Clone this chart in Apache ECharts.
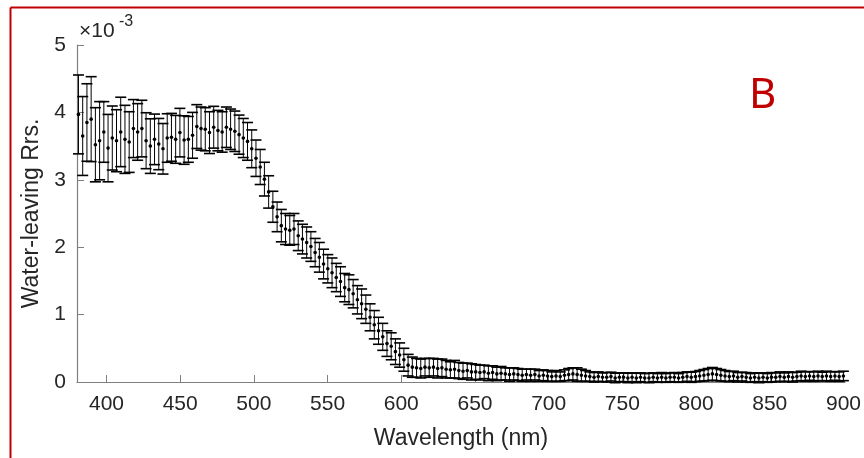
<!DOCTYPE html>
<html lang="en">

<head>
  <meta charset="UTF-8">
  <title>Water-leaving Rrs</title>
  <script src="https://cdn.jsdelivr.net/npm/echarts@6/dist/echarts.min.js"></script>
  <style>
    html, body { margin: 0; padding: 0; background: #fff; }
  </style>
</head>

<body>
  <div id="main" style="width: 864px;height:458px"></div>
  <script>
    // band centres: first band and spacing (nm)
    var waveStart = 381
    var waveStep = 2.867

    // mean Rrs (x 10^-3), one per band
    var meanRrs = [
      3.97, 3.65, 3.85, 3.90, 3.52, 3.58, 3.71, 3.47, 3.62, 3.58,
      3.71, 3.60, 3.56, 3.76, 3.71, 3.76, 3.58, 3.50, 3.60, 3.53,
      3.46, 3.62, 3.63, 3.60, 3.70, 3.59, 3.60, 3.66, 3.79, 3.76,
      3.75, 3.70, 3.78, 3.73, 3.71, 3.78, 3.75, 3.72, 3.67, 3.62,
      3.57, 3.46, 3.32, 3.19, 3.01, 2.82, 2.60, 2.45, 2.32, 2.27,
      2.25, 2.27, 2.17, 2.12, 2.07, 2.01, 1.92, 1.85, 1.75, 1.68,
      1.62, 1.55, 1.49, 1.40, 1.37, 1.31, 1.22, 1.16, 1.08, 0.96,
      0.85, 0.76, 0.67, 0.57, 0.53, 0.45, 0.40, 0.33, 0.25, 0.22,
      0.21, 0.20, 0.22, 0.21, 0.22, 0.20, 0.21, 0.19, 0.18, 0.19,
      0.17, 0.16, 0.17, 0.15, 0.15, 0.14, 0.15, 0.13, 0.14, 0.12,
      0.13, 0.12, 0.11, 0.12, 0.11, 0.10, 0.11, 0.10, 0.11, 0.09,
      0.10, 0.09, 0.08, 0.09, 0.08, 0.10, 0.11, 0.12, 0.11, 0.10,
      0.09, 0.08, 0.07, 0.08, 0.07, 0.07, 0.08, 0.06, 0.07, 0.07,
      0.06, 0.07, 0.06, 0.07, 0.06, 0.06, 0.07, 0.06, 0.07, 0.06,
      0.07, 0.07, 0.06, 0.07, 0.08, 0.07, 0.08, 0.09, 0.10, 0.11,
      0.12, 0.11, 0.10, 0.09, 0.08, 0.09, 0.07, 0.08, 0.07, 0.06,
      0.07, 0.06, 0.07, 0.06, 0.07, 0.07, 0.08, 0.07, 0.08, 0.07,
      0.08, 0.09, 0.08, 0.09, 0.08, 0.09, 0.08, 0.09, 0.08, 0.09,
      0.08, 0.09
    ]

    // error bar half length (x 10^-3)
    var errRrs = [
      0.585, 0.585, 0.575, 0.63, 0.55, 0.58, 0.45, 0.50, 0.475, 0.46,
      0.515, 0.505, 0.45, 0.43, 0.42, 0.42, 0.415, 0.405, 0.375, 0.38,
      0.375, 0.36, 0.355, 0.355, 0.36, 0.36, 0.34, 0.34, 0.325, 0.32,
      0.32, 0.31, 0.31, 0.30, 0.30, 0.30, 0.30, 0.30, 0.29, 0.29,
      0.28, 0.28, 0.27, 0.26, 0.25, 0.24, 0.23, 0.22, 0.24, 0.23,
      0.22, 0.23, 0.22, 0.22, 0.23, 0.22, 0.21, 0.22, 0.22, 0.21,
      0.22, 0.21, 0.22, 0.21, 0.22, 0.21, 0.21, 0.22, 0.21, 0.20,
      0.21, 0.20, 0.20, 0.19, 0.20, 0.19, 0.18, 0.17, 0.16, 0.15,
      0.14, 0.14, 0.13, 0.14, 0.13, 0.14, 0.13, 0.13, 0.12, 0.13,
      0.12, 0.12, 0.11, 0.12, 0.11, 0.11, 0.10, 0.11, 0.10, 0.10,
      0.10, 0.09, 0.10, 0.09, 0.09, 0.09, 0.08, 0.09, 0.08, 0.08,
      0.08, 0.08, 0.07, 0.08, 0.07, 0.08, 0.09, 0.09, 0.10, 0.09,
      0.08, 0.07, 0.07, 0.07, 0.065, 0.07, 0.065, 0.07, 0.065, 0.065,
      0.07, 0.065, 0.07, 0.065, 0.065, 0.07, 0.065, 0.065, 0.07, 0.065,
      0.065, 0.07, 0.065, 0.07, 0.07, 0.075, 0.075, 0.08, 0.085, 0.09,
      0.095, 0.09, 0.085, 0.08, 0.075, 0.07, 0.07, 0.065, 0.07, 0.065,
      0.065, 0.07, 0.065, 0.065, 0.07, 0.065, 0.07, 0.065, 0.07, 0.07,
      0.065, 0.07, 0.07, 0.065, 0.07, 0.07, 0.065, 0.07, 0.07, 0.065,
      0.07, 0.07
    ]

    var xTicks = [400, 450, 500, 550, 600, 650, 700, 750, 800, 850, 900]

    // [wavelength, mean, err]
    var barData = []
    for (var i = 0; i < meanRrs.length; i++) {
      barData.push([waveStart + i * waveStep, meanRrs[i], errRrs[i]])
    }

    var txt = '#262626'
    var axisGray = '#7f7f7f'

    var mCharts = echarts.init(document.getElementById('main'))
    var option = {
      animation: false,
      grid: { left: 77, right: 19, top: 45, bottom: 76 },
      xAxis: {
        type: 'value',
        min: 380,
        max: 901,
        name: 'Wavelength (nm)',
        nameLocation: 'middle',
        nameGap: 45,
        nameTextStyle: { color: txt, fontSize: 23, fontFamily: 'Liberation Sans' },
        axisLine: { lineStyle: { color: axisGray, width: 1.2 } },
        axisTick: { inside: true, length: 7, customValues: xTicks, lineStyle: { color: axisGray } },
        axisLabel: { customValues: xTicks, color: txt, fontSize: 21, margin: 12, fontFamily: 'Liberation Sans' },
        splitLine: { show: false }
      },
      yAxis: {
        type: 'value',
        min: 0,
        max: 5,
        interval: 1,
        name: 'Water-leaving Rrs.',
        nameLocation: 'middle',
        nameGap: 30,
        nameTextStyle: { color: txt, fontSize: 23, fontFamily: 'Liberation Sans' },
        axisLine: { show: true, lineStyle: { color: axisGray, width: 1.2 } },
        axisTick: { show: true, inside: true, length: 7, lineStyle: { color: axisGray } },
        axisLabel: { color: txt, fontSize: 21, margin: 11, fontFamily: 'Liberation Sans' },
        splitLine: { show: false }
      },
      graphic: [
        // red frame (left and top edges)
        { type: 'line', shape: { x1: 10.5, y1: 7.5, x2: 10.5, y2: 458 }, style: { stroke: '#c00000', lineWidth: 2 } },
        { type: 'line', shape: { x1: 10.5, y1: 7.5, x2: 864, y2: 7.5 }, style: { stroke: '#c00000', lineWidth: 2 } },
        { type: 'text', left: 79, top: 21, style: { text: '×10', fill: txt, fontSize: 21, fontFamily: 'Liberation Sans' } },
        { type: 'text', left: 119, top: 14, style: { text: '-3', fill: txt, fontSize: 16, fontFamily: 'Liberation Sans' } },
        { type: 'text', left: 749, top: 75, style: { text: 'B', fill: '#c00000', fontSize: 42, fontFamily: 'Noto Sans' } }
      ],
      series: [
        {
          type: 'custom',
          data: barData,
          encode: { x: 0, y: 1 },
          renderItem: function (params, api) {
            var x = api.value(0)
            var m = api.value(1)
            var e = api.value(2)
            var top = api.coord([x, m + e])
            var bot = api.coord([x, m - e])
            var mid = api.coord([x, m])
            var hw = 5.5 // half cap width
            return {
              type: 'group',
              children: [
                { type: 'line', shape: { x1: top[0], y1: top[1], x2: bot[0], y2: bot[1] }, style: { stroke: '#000', lineWidth: 1 } },
                { type: 'line', shape: { x1: top[0] - hw, y1: top[1], x2: top[0] + hw, y2: top[1] }, style: { stroke: '#000', lineWidth: 1.6 } },
                { type: 'line', shape: { x1: bot[0] - hw, y1: bot[1], x2: bot[0] + hw, y2: bot[1] }, style: { stroke: '#000', lineWidth: 1.6 } },
                { type: 'circle', shape: { cx: mid[0], cy: mid[1], r: 1.8 }, style: { fill: '#000' } }
              ]
            }
          }
        }
      ]
    }
    mCharts.setOption(option)
  </script>
</body>

</html>
